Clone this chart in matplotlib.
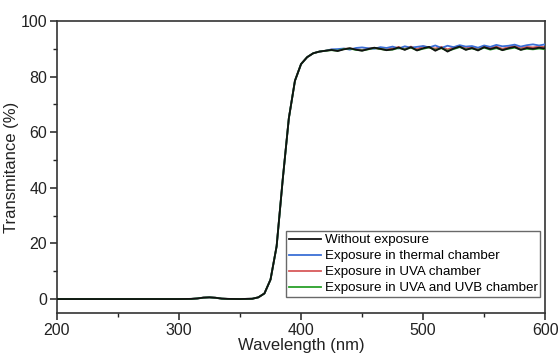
import numpy as np
import matplotlib
matplotlib.use("Agg")
import matplotlib.pyplot as plt
from matplotlib.ticker import MultipleLocator

plt.rcParams["font.family"] = ["Liberation Sans", "DejaVu Sans"]

# ---------------------------------------------------------------
# Data
# ---------------------------------------------------------------
# absorption edge region, common to all samples
wl_edge = [200, 250, 300, 310, 315, 320, 325, 330, 335, 340, 350, 360,
           365, 370, 375, 380, 385, 390, 395, 400, 405, 410, 415, 420]
t_edge = [0.0, 0.0, 0.0, 0.05, 0.2, 0.5, 0.6, 0.45, 0.15, 0.05, 0.0, 0.1,
          0.6, 2.0, 7.0, 19.0, 43.0, 65.0, 78.5, 84.5, 87.0, 88.4, 89.0, 89.3]

# plateau region, one list per sample
wl_plateau = [425, 430, 435, 440, 445, 450, 455, 460, 465, 470, 475, 480,
              485, 490, 495, 500, 505, 510, 515, 520, 525, 530, 535, 540,
              545, 550, 555, 560, 565, 570, 575, 580, 585, 590, 595, 600]
t_without = [89.6, 89.2, 89.8, 90.2, 89.7, 89.3, 89.9, 90.4, 90.0, 89.5, 89.8, 90.5,
             89.6, 90.6, 89.4, 90.2, 90.7, 89.3, 90.4, 89.0, 90.1, 90.8, 89.6, 90.3,
             89.4, 90.6, 89.9, 90.5, 89.5, 90.2, 90.7, 89.6, 90.3, 90.0, 90.4, 90.1]
t_thermal = [89.8, 89.9, 90.1, 89.7, 90.3, 90.5, 90.2, 90.0, 90.6, 90.3, 90.8, 90.1,
             90.9, 90.4, 90.7, 91.0, 90.5, 91.2, 90.3, 91.1, 90.6, 91.3, 90.8, 91.0,
             90.4, 91.2, 90.7, 91.4, 90.9, 91.1, 91.5, 90.8, 91.3, 91.6, 91.2, 91.6]
t_uva = [89.7, 89.5, 90.0, 90.1, 89.9, 89.6, 90.1, 90.3, 89.9, 89.8, 90.2, 90.6,
         90.0, 90.8, 89.9, 90.9, 90.4, 90.1, 90.7, 89.8, 90.5, 91.0, 90.2, 90.6,
         89.9, 90.9, 90.3, 90.8, 90.0, 90.6, 91.0, 90.2, 90.7, 90.5, 90.8, 90.6]
t_uvab = [89.5, 89.3, 89.9, 90.1, 89.6, 89.4, 89.8, 90.3, 89.9, 89.6, 89.7, 90.3,
          89.8, 90.4, 89.5, 90.0, 90.5, 89.6, 90.2, 89.3, 89.9, 90.6, 89.8, 90.1,
          89.6, 90.4, 89.7, 90.2, 89.6, 90.0, 90.4, 89.7, 90.0, 89.8, 90.1, 89.8]

labels = ["Without exposure", "Exposure in thermal chamber",
          "Exposure in UVA chamber", "Exposure in UVA and UVB chamber"]
colors = ["#111111", "#3b6fd6", "#d8595a", "#2aa02a"]
series = [t_without, t_thermal, t_uva, t_uvab]
zorders = [5, 3, 2, 4]

# ---------------------------------------------------------------
# Plot
# ---------------------------------------------------------------
fig = plt.figure(figsize=(5.58, 3.56), dpi=100)
ax = fig.add_axes([0.102, 0.121, 0.875, 0.820])

wl = np.array(wl_edge + wl_plateau)
for lab, col, s, z in zip(labels, colors, series, zorders):
    ax.plot(wl, np.array(t_edge + s), color=col, lw=1.3, label=lab, zorder=z)

ax.set_xlim(200, 600)
ax.set_ylim(-5, 100)
ax.xaxis.set_major_locator(MultipleLocator(100))
ax.xaxis.set_minor_locator(MultipleLocator(50))
ax.yaxis.set_major_locator(MultipleLocator(20))
ax.yaxis.set_minor_locator(MultipleLocator(10))
ax.tick_params(which="major", direction="out", length=5, width=1.1,
               labelsize=11.5, colors="#222222", pad=2)
ax.tick_params(which="minor", direction="out", length=3, width=1.0, colors="#222222")
for sp in ax.spines.values():
    sp.set_linewidth(1.2)
    sp.set_color("#333333")

ax.set_xlabel("Wavelength (nm)", fontsize=12, color="#222222", labelpad=0.5)
ax.set_ylabel("Transmitance (%)", fontsize=12, color="#222222", labelpad=1)

leg = ax.legend(loc="lower right", fontsize=9.6, frameon=True, fancybox=False,
                edgecolor="#444444", labelspacing=0.27, handlelength=2.4,
                handletextpad=0.3, borderpad=0.2, borderaxespad=0.0,
                bbox_to_anchor=(0.99, 0.055))
leg.get_frame().set_linewidth(1.0)

fig.savefig("out.png", dpi=100)
